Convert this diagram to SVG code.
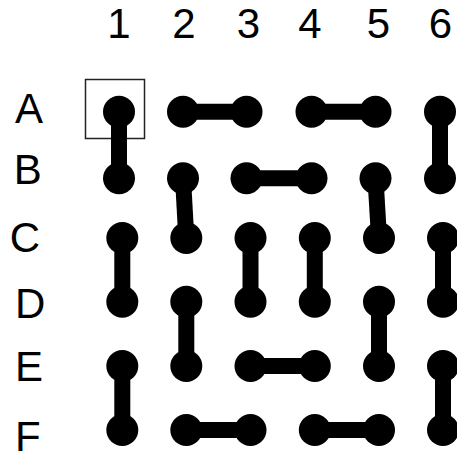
<svg xmlns="http://www.w3.org/2000/svg" width="457" height="455" viewBox="0 0 457 455">
<style>
.dot{fill:#000}
.bar{stroke:#000;stroke-width:16;fill:none}
.lbl{font-family:"Liberation Sans",Arial,sans-serif;font-size:42px;fill:#000}
.col{text-anchor:middle}
.box{fill:none;stroke:#222;stroke-width:1.5}
</style>
<rect width="457" height="455" fill="#fff"/>
<g id="labels">
<text class="lbl col" x="119" y="38.3">1</text>
<text class="lbl col" x="184" y="38.3">2</text>
<text class="lbl col" x="248.5" y="38.3">3</text>
<text class="lbl col" x="310" y="38.3">4</text>
<text class="lbl col" x="378.5" y="38.3">5</text>
<text class="lbl col" x="440.5" y="38.3">6</text>
<text class="lbl" x="15" y="122.7">A</text>
<text class="lbl" x="13.7" y="184.3">B</text>
<text class="lbl" x="9.7" y="251.8">C</text>
<text class="lbl" x="15" y="318.3">D</text>
<text class="lbl" x="15" y="380.7">E</text>
<text class="lbl" x="15" y="450.5">F</text>
</g>
<rect id="highlight" class="box" x="85.5" y="79.5" width="59" height="59"/>
<g id="connectors">
<line class="bar" x1="119" y1="111.7" x2="119" y2="178.3"/>
<line class="bar" x1="183" y1="111.7" x2="246.5" y2="111.7"/>
<line class="bar" x1="311.5" y1="111.7" x2="375.5" y2="111.7"/>
<line class="bar" x1="440" y1="111.7" x2="440" y2="178.3"/>
<line class="bar" x1="183" y1="178.3" x2="186.3" y2="238"/>
<line class="bar" x1="246.5" y1="178.3" x2="311.5" y2="178.3"/>
<line class="bar" x1="375.5" y1="178.3" x2="379" y2="238"/>
<line class="bar" x1="122.3" y1="238" x2="122.3" y2="301.7"/>
<line class="bar" x1="250.5" y1="238" x2="250.5" y2="301.7"/>
<line class="bar" x1="314.8" y1="238" x2="314.8" y2="301.7"/>
<line class="bar" x1="443" y1="238" x2="443" y2="301.7"/>
<line class="bar" x1="186.3" y1="301.7" x2="186.3" y2="366"/>
<line class="bar" x1="379" y1="301.7" x2="379" y2="366"/>
<line class="bar" x1="122.3" y1="366" x2="122.3" y2="430"/>
<line class="bar" x1="250.5" y1="366" x2="314.8" y2="366"/>
<line class="bar" x1="443" y1="366" x2="443" y2="430"/>
<line class="bar" x1="186.3" y1="430" x2="250.5" y2="430"/>
<line class="bar" x1="314.8" y1="430" x2="379" y2="430"/>
</g>
<g id="A1"><circle class="dot" cx="119" cy="111.7" r="16"/></g>
<g id="A2"><circle class="dot" cx="183" cy="111.7" r="16"/></g>
<g id="A3"><circle class="dot" cx="246.5" cy="111.7" r="16"/></g>
<g id="A4"><circle class="dot" cx="311.5" cy="111.7" r="16"/></g>
<g id="A5"><circle class="dot" cx="375.5" cy="111.7" r="16"/></g>
<g id="A6"><circle class="dot" cx="440" cy="111.7" r="16"/></g>
<g id="B1"><circle class="dot" cx="119" cy="178.3" r="16"/></g>
<g id="B2"><circle class="dot" cx="183" cy="178.3" r="16"/></g>
<g id="B3"><circle class="dot" cx="246.5" cy="178.3" r="16"/></g>
<g id="B4"><circle class="dot" cx="311.5" cy="178.3" r="16"/></g>
<g id="B5"><circle class="dot" cx="375.5" cy="178.3" r="16"/></g>
<g id="B6"><circle class="dot" cx="440" cy="178.3" r="16"/></g>
<g id="C1"><circle class="dot" cx="122.3" cy="238" r="16"/></g>
<g id="C2"><circle class="dot" cx="186.3" cy="238" r="16"/></g>
<g id="C3"><circle class="dot" cx="250.5" cy="238" r="16"/></g>
<g id="C4"><circle class="dot" cx="314.8" cy="238" r="16"/></g>
<g id="C5"><circle class="dot" cx="379" cy="238" r="16"/></g>
<g id="C6"><circle class="dot" cx="443" cy="238" r="16"/></g>
<g id="D1"><circle class="dot" cx="122.3" cy="301.7" r="16"/></g>
<g id="D2"><circle class="dot" cx="186.3" cy="301.7" r="16"/></g>
<g id="D3"><circle class="dot" cx="250.5" cy="301.7" r="16"/></g>
<g id="D4"><circle class="dot" cx="314.8" cy="301.7" r="16"/></g>
<g id="D5"><circle class="dot" cx="379" cy="301.7" r="16"/></g>
<g id="D6"><circle class="dot" cx="443" cy="301.7" r="16"/></g>
<g id="E1"><circle class="dot" cx="122.3" cy="366" r="16"/></g>
<g id="E2"><circle class="dot" cx="186.3" cy="366" r="16"/></g>
<g id="E3"><circle class="dot" cx="250.5" cy="366" r="16"/></g>
<g id="E4"><circle class="dot" cx="314.8" cy="366" r="16"/></g>
<g id="E5"><circle class="dot" cx="379" cy="366" r="16"/></g>
<g id="E6"><circle class="dot" cx="443" cy="366" r="16"/></g>
<g id="F1"><circle class="dot" cx="122.3" cy="430" r="16"/></g>
<g id="F2"><circle class="dot" cx="186.3" cy="430" r="16"/></g>
<g id="F3"><circle class="dot" cx="250.5" cy="430" r="16"/></g>
<g id="F4"><circle class="dot" cx="314.8" cy="430" r="16"/></g>
<g id="F5"><circle class="dot" cx="379" cy="430" r="16"/></g>
<g id="F6"><circle class="dot" cx="443" cy="430" r="16"/></g>
</svg>
